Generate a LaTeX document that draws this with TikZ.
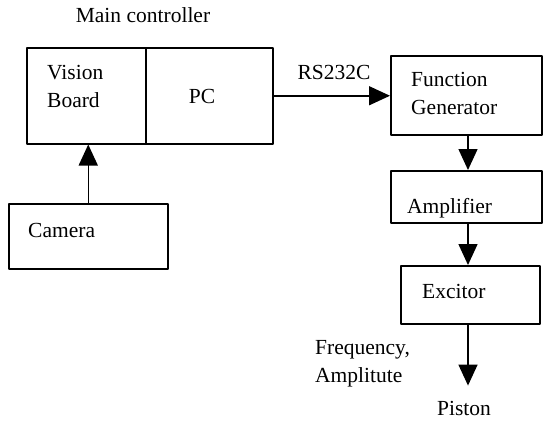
\documentclass[tikz,border=0pt]{standalone}
\usepackage{fontspec}
\setmainfont{Liberation Serif}
\usetikzlibrary{arrows.meta}
\begin{document}
\begin{tikzpicture}[x=1pt, y=-1pt, line join=round, font=\fontsize{21.5}{27.5}\selectfont,
	>={Triangle[length=21pt,width=19pt]},
	blk/.style={draw, line width=1.5pt, inner sep=0pt, anchor=north west},
	txt/.style={inner sep=0pt, align=left},
	flow/.style={->, line width=1.5pt}]
	\useasboundingbox (0,0) rectangle (543,423);
	% boxes
	\node[blk, minimum width=119pt, minimum height=96pt] (vb) at (26,47) {};
	\node[blk, minimum width=127pt, minimum height=96pt] (pc) at (145,47) {};
	\node[blk, minimum width=151pt, minimum height=79pt] (fg) at (390,55) {};
	\node[blk, minimum width=151pt, minimum height=52pt] (amp) at (390,170) {};
	\node[blk, minimum width=139pt, minimum height=58pt] (exc) at (400,265) {};
	\node[blk, minimum width=159pt, minimum height=65pt] (cam) at (8,203) {};
	% texts
	\node[txt, anchor=base] (title) at (143,23) {Main controller};
	\node[txt, anchor=base west] (vbtext) at (47,107) {Vision\\Board};
	\node[txt, anchor=base] (pctext) at (202,103) {PC};
	\node[txt, anchor=base] (rs) at (334,79) {RS232C};
	\node[txt, anchor=base west] (fgtext) at (411,114) {Function\\Generator};
	\node[txt, anchor=base west] (amptext) at (407,213) {Amplifier};
	\node[txt, anchor=base west] (exctext) at (422,298) {Excitor};
	\node[txt, anchor=base west] (camtext) at (28,237) {Camera};
	\node[txt, anchor=base west] (freq) at (315,382) {Frequency,\\Amplitute};
	\node[txt, anchor=base] (piston) at (464,415) {Piston};
	% connectors
	\draw[flow] (cam.north) -- (cam.north |- vb.south);
	\draw[flow] (pc.east) -- (pc.east -| fg.west);
	\draw[flow] (fg.south -| 468,0) -- (amp.north -| 468,0);
	\draw[flow] (amp.south -| 468,0) -- (exc.north -| 468,0);
	\draw[flow, shorten >=15pt] (exc.south -| 468,0) -- (piston.north -| 468,0);
\end{tikzpicture}
\end{document}
